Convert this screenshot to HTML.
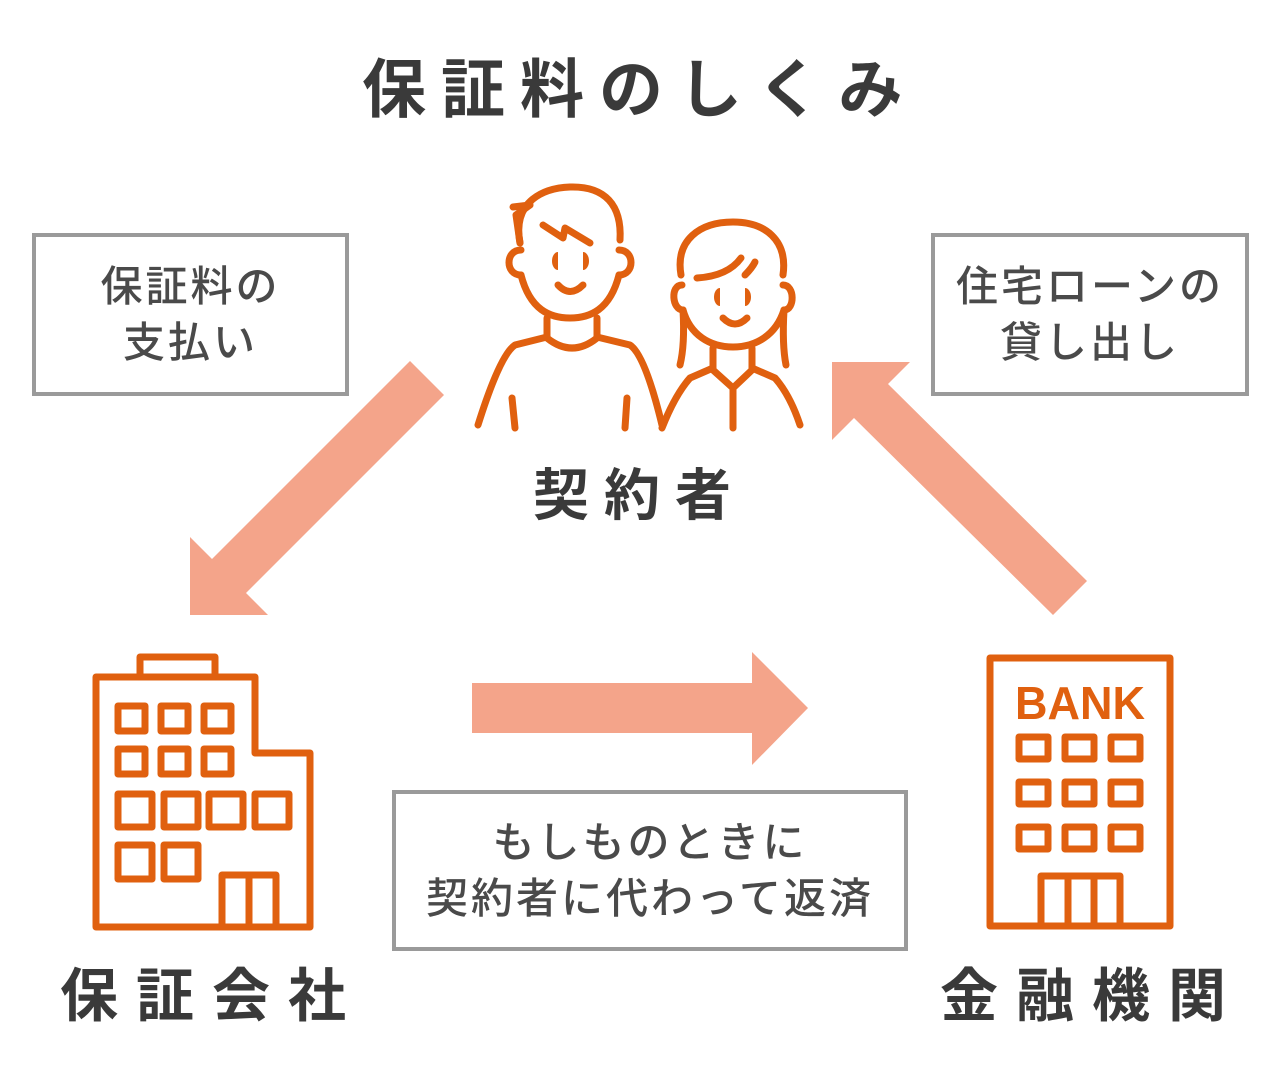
<!DOCTYPE html>
<html><head><meta charset="utf-8"><style>
html,body{margin:0;padding:0;background:#fff;}
body{width:1280px;height:1080px;position:relative;overflow:hidden;font-family:"Liberation Sans","Noto Sans CJK JP",sans-serif;color:#3a3a3a;}
.t{position:absolute;font-weight:bold;white-space:nowrap;}
.box{position:absolute;border:4px solid #9a9a9a;box-sizing:border-box;display:flex;align-items:center;justify-content:center;text-align:center;font-size:42px;line-height:56px;color:#4a4a4a;font-weight:500;letter-spacing:3px;}
svg{position:absolute;left:0;top:0;}
</style></head><body>
<svg width="1280" height="1080" viewBox="0 0 1280 1080">
<g fill="#f4a48a">
<polygon points="190,615 190,537 212,559 410,361 444,395 246,593 268,615"/>
<polygon points="832,362 910,362 888,384 1087,581 1053,615 854,418 832,440"/>
<polygon points="472,683 752,683 752,652 808,708 752,765 752,733 472,733"/>
</g>
<g fill="none" stroke="#e0600f" stroke-width="7" stroke-linecap="round" stroke-linejoin="round">
<path d="M520,243 C512,200 545,188 570,187 C605,186 622,205 620,240"/>
<path d="M513,207 L530,205 L516,215 L520,243"/>
<path d="M543,225 L563,238 L565,228 L590,243"/>
<path d="M521,250 C505,250 505,275 521,275"/>
<path d="M619,250 C635,250 635,275 619,275"/>
<path d="M521,275 C530,310 550,318 570,318 C590,318 610,310 619,275"/>
<path d="M558,285 Q570,298 583,285"/>
<path d="M547,318 L547,338 Q572,358 597,338 L597,318"/>
<path d="M547,337 L515,345 Q500,355 478,425"/>
<path d="M597,337 L630,345 Q645,355 662,425"/>
<path d="M512,398 L515,428"/>
<path d="M627,398 L625,428"/>
<path d="M681,275 C675,240 700,222 733,222 C765,222 788,240 783,275"/>
<path d="M697,278 Q728,276 741,258"/>
<path d="M745,275 Q752,268 755,262"/>
<path d="M682,285 C670,285 672,310 683,310"/>
<path d="M783,285 C795,285 795,310 784,310"/>
<path d="M683,310 C690,335 710,347 733,347 C756,347 776,335 784,310"/>
<path d="M683,310 Q685,345 680,365"/>
<path d="M784,310 Q782,345 786,365"/>
<path d="M723,318 Q735,330 747,318"/>
<path d="M713,348 L713,370 L733,388 L752,370 L752,348"/>
<path d="M733,388 L733,428"/>
<path d="M713,368 L690,378 Q675,395 662,428"/>
<path d="M752,368 L775,378 Q790,395 800,425"/>
</g>
<g fill="#e0600f">
<path d="M558,252 a6,9 0 0 0 0,18 z"/>
<path d="M583,252 a6,9 0 0 1 0,18 z"/>
<path d="M720,288 a6,9 0 0 0 0,18 z"/>
<path d="M745,288 a6,9 0 0 1 0,18 z"/>
</g>
<g fill="none" stroke="#e0600f" stroke-width="7" stroke-linejoin="round">
<path d="M96,677 L255,677 L255,753 L310,753 L310,927 L96,927 Z"/>
<rect x="140" y="657" width="75" height="20"/>
<rect x="118" y="706" width="27" height="25"/>
<rect x="161" y="706" width="27" height="25"/>
<rect x="204" y="706" width="27" height="25"/>
<rect x="118" y="749" width="27" height="25"/>
<rect x="161" y="749" width="27" height="25"/>
<rect x="204" y="749" width="27" height="25"/>
<rect x="118" y="794" width="34" height="33"/>
<rect x="164" y="794" width="34" height="33"/>
<rect x="209" y="794" width="34" height="33"/>
<rect x="255" y="794" width="34" height="33"/>
<rect x="118" y="845" width="34" height="34"/>
<rect x="164" y="845" width="34" height="34"/>
<path d="M222,927 L222,875 L276,875 L276,927 M249,875 L249,927"/>
<rect x="990" y="658" width="180" height="268"/>
<rect x="1019" y="737" width="29" height="22"/>
<rect x="1065" y="737" width="29" height="22"/>
<rect x="1111" y="737" width="29" height="22"/>
<rect x="1019" y="782" width="29" height="22"/>
<rect x="1065" y="782" width="29" height="22"/>
<rect x="1111" y="782" width="29" height="22"/>
<rect x="1019" y="827" width="29" height="22"/>
<rect x="1065" y="827" width="29" height="22"/>
<rect x="1111" y="827" width="29" height="22"/>
<path d="M1041,926 L1041,876 L1120,876 L1120,926 M1068,876 L1068,926 M1094,876 L1094,926"/>
</g>
<text x="1015" y="719" textLength="130" lengthAdjust="spacingAndGlyphs" font-family="Liberation Sans" font-weight="bold" font-size="46" fill="#e0600f">BANK</text>
</svg>
<div class="t" style="left:362px;top:50px;font-size:64px;letter-spacing:15px;line-height:80px;">保証料のしくみ</div>
<div class="t" style="left:533px;top:460px;font-size:56px;letter-spacing:15px;line-height:72px;">契約者</div>
<div class="t" style="left:60px;top:960px;font-size:58px;letter-spacing:18px;line-height:74px;">保証会社</div>
<div class="t" style="left:940px;top:960px;font-size:58px;letter-spacing:18px;line-height:74px;">金融機関</div>
<div class="box" style="left:32px;top:233px;width:317px;height:163px;">保証料の<br>支払い</div>
<div class="box" style="left:931px;top:233px;width:318px;height:163px;">住宅ローンの<br>貸し出し</div>
<div class="box" style="left:392px;top:790px;width:516px;height:161px;">もしものときに<br>契約者に代わって返済</div>
</body></html>
